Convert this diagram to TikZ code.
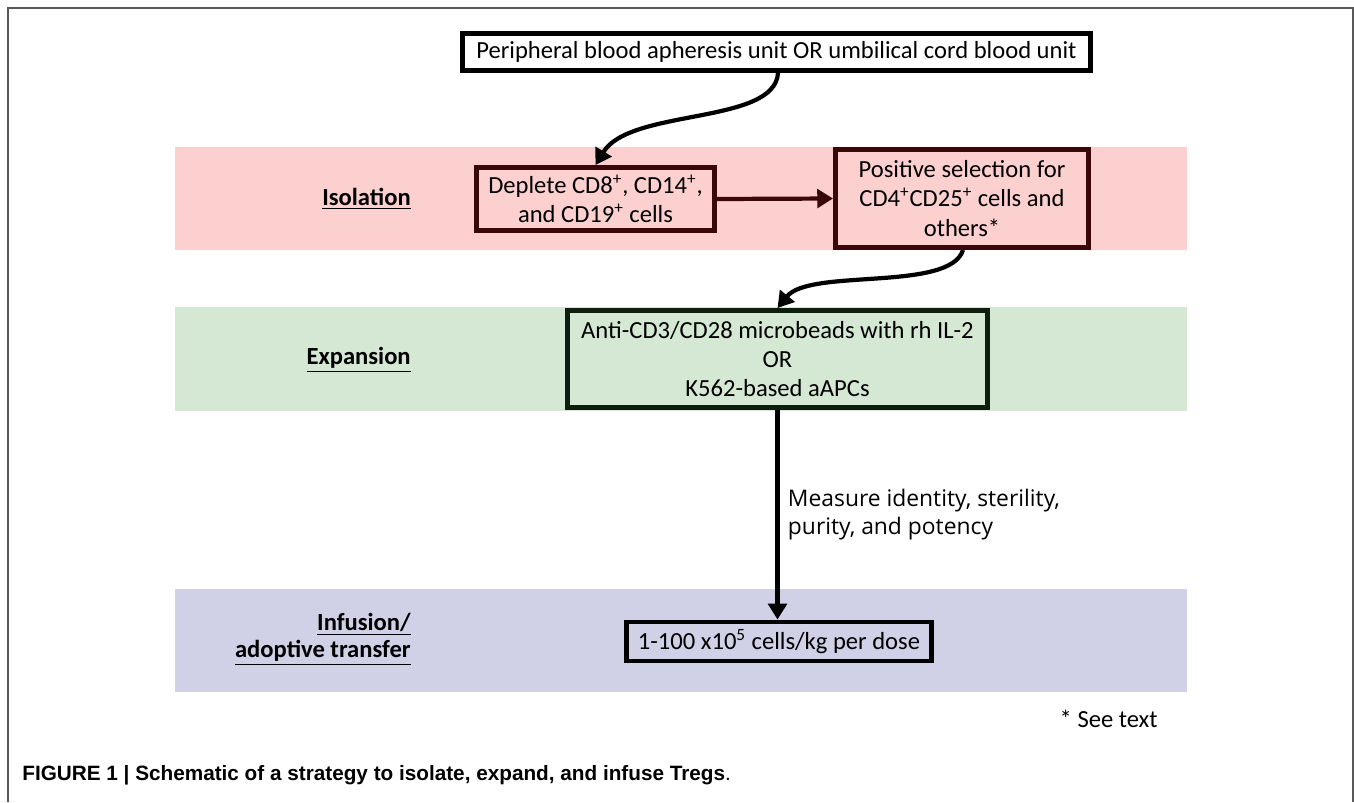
\documentclass[tikz,border=0pt]{standalone}
\usepackage{fontspec}
\setmainfont{Carlito}
\newfontfamily\measurefont{Open Sans}
\newfontfamily\capfont{Liberation Sans}
\usetikzlibrary{arrows.meta,positioning}
\definecolor{isolband}{RGB}{253,208,208}
\definecolor{expband}{RGB}{213,232,212}
\definecolor{infband}{RGB}{208,208,230}
\definecolor{isoldark}{RGB}{58,8,8}
\definecolor{expdark}{RGB}{14,30,14}
\tikzset{
  stepbox/.style={draw,line width=2.8pt,inner sep=0pt,align=center,
    font=\fontsize{14}{16.6}\selectfont},
  stagelabel/.style={anchor=east,inner sep=0pt,align=right,font=\bfseries\fontsize{14}{15.5}\selectfont},
  flow/.style={line width=2.4pt,-{Triangle[length=9pt,width=10.5pt]}},
}
\begin{document}
\begin{tikzpicture}[x=0.02cm,y=-0.02cm]
  \useasboundingbox (0,0) rectangle (1354,802);
  % frame
  \draw[gray!70!black,line width=0.6pt] (8,802) -- (8,8) -- (1353,8) -- (1353,802);
  % bands
  \fill[isolband] (175,147) rectangle (1187,250);
  \fill[expband] (175,307) rectangle (1187,411);
  \fill[infband] (175,589) rectangle (1187,692);
  % stage labels
  \node[stagelabel] (isol) at (411,199) {\underline{Isolation}};
  \node[stagelabel] (expn) at (411,360) {\underline{Expansion}};
  \node[stagelabel] (infus) at (411,639) {\underline{Infusion/}\\\underline{adoptive transfer}};
  % boxes
  \node[stepbox,fill=white,minimum width=12.56cm,minimum height=0.74cm] (top) at (776.5,52)
    {Peripheral blood apheresis unit OR umbilical cord blood unit};
  \node[stepbox,draw=isoldark,fill=isolband,minimum width=4.76cm,minimum height=1.26cm] (deplete) at (595.5,199)
    {Deplete CD8\textsuperscript{+}, CD14\textsuperscript{+},\\and CD19\textsuperscript{+} cells};
  \node[stepbox,draw=isoldark,fill=isolband,minimum width=5.06cm,minimum height=1.96cm] (possel) at (962,198.5)
    {Positive selection for\\CD4\textsuperscript{+}CD25\textsuperscript{+} cells and\\others*};
  \node[stepbox,draw=expdark,fill=expband,minimum width=8.4cm,minimum height=1.94cm] (expand) at (777.5,359)
    {Anti-CD3/CD28 microbeads with rh IL-2\\OR\\K562-based aAPCs};
  \node[stepbox,fill=infband,minimum width=6.1cm,minimum height=0.78cm] (dose) at (779,641.5)
    {1-100 x10\textsuperscript{5} cells/kg per dose};
  % connectors
  \draw[flow] ([xshift=0.03cm]top.south) .. controls (775,125) and (630,108) .. (deplete.north);
  \draw[flow,isoldark] (deplete.east) -- (possel.west);
  \draw[flow] ([xshift=0.02cm]possel.south) .. controls (950,292) and (810,268) .. (expand.north);
  \draw[flow] (expand.south) -- (expand.south |- dose.north)
    node[pos=0.5,right=0.05cm,align=left,font=\measurefont\fontsize{13}{15.9}\selectfont] (measure)
    {Measure identity, sterility,\\purity, and potency};
  % footnote and caption
  \node[anchor=east,inner sep=0pt,font=\fontsize{14}{17}\selectfont] (seetext) at (1158,719) {* See text};
  \node[anchor=west,inner sep=0pt,font=\capfont\fontsize{11.8}{14}\selectfont] (caption) at (22,775)
    {\textbf{FIGURE 1 | Schematic of a strategy to isolate, expand, and infuse Tregs}.};
\end{tikzpicture}
\end{document}
